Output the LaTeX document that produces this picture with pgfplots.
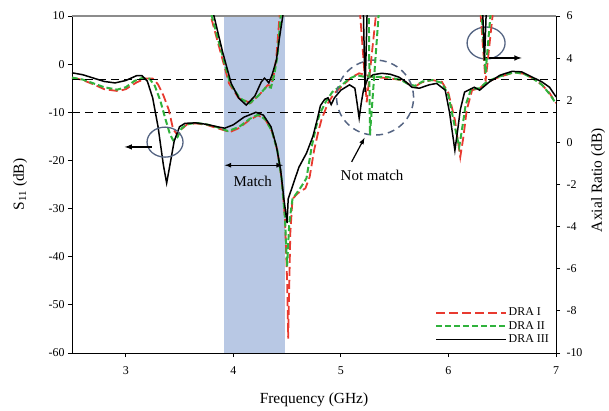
\documentclass[border=0pt]{standalone}
\usepackage{pgfplots}
\pgfplotsset{compat=1.18}
\usepackage{fontspec}
\setmainfont{Liberation Serif}
\definecolor{dred}{RGB}{232,58,48}
\definecolor{dgreen}{RGB}{48,178,60}
\definecolor{shade}{RGB}{184,200,228}
\definecolor{ring}{RGB}{84,100,130}
\begin{document}
\begin{tikzpicture}[font=\fontsize{15}{17}\selectfont]
\pgfplotsset{
  base/.style={scale only axis, width=484bp, height=337bp, xmin=2.5, xmax=7, clip=true,
    tick align=outside, major tick length=4bp,
    /pgf/number format/assume math mode=true,
    tick label style={font=\fontsize{12}{13}\selectfont},
    label style={font=\fontsize{15.5}{17}\selectfont},
    axis line style={line width=0.9bp}, tick style={line width=0.8bp, black}},
  redS/.style={dred, line width=1.8bp, dash pattern=on 9bp off 4bp},
  greenS/.style={dgreen, line width=2bp, dash pattern=on 6bp off 3bp},
  blackS/.style={black, line width=1.5bp},
}
\begin{axis}[base, ymin=-60, ymax=10,
  axis x line*=bottom, axis y line*=left,
  ytick={-60,-50,...,10}, xtick={3,4,5,6,7},
  xticklabel style={yshift=-6bp},
  xlabel={Frequency (GHz)}, ylabel={S\textsubscript{11} (dB)},
  xlabel style={at={(axis description cs:0.5,-0.14)}, anchor=center},
  ylabel style={at={(axis description cs:-0.107,0.5)}, anchor=center},
  legend style={draw=none, fill=none, at={(0.995,0.015)}, anchor=south east,
    row sep=1bp, font=\fontsize{12}{12}\selectfont, nodes={inner sep=1.5bp}},
  legend cell align=left,
  legend image code/.code={\draw[#1] (0bp,0bp) -- (55bp,0bp); \path (0bp,0bp) -- (70bp,0bp);},
]
\coordinate (SW) at (rel axis cs:0,0);
\addplot[fill=shade, draw=none, forget plot] coordinates {(3.91,-60) (3.91,10) (4.48,10) (4.48,-60)} -- cycle;
\addplot[black, line width=1bp, dash pattern=on 8bp off 5bp, forget plot] coordinates {(2.5,-10) (7,-10)};
\draw[black!45, line width=1.4bp] (rel axis cs:0,1) -- (rel axis cs:1,1);

\addplot[redS] coordinates {
(2.50,-2.8) (2.60,-3.3) (2.70,-4.2) (2.80,-5.2) (2.93,-5.6) (3.00,-5.2) (3.10,-3.8) (3.18,-3.0) (3.25,-3.0) (3.30,-4.2) (3.35,-6.5) (3.40,-9.5) (3.44,-13.5) (3.48,-14.7) (3.52,-13.5) (3.57,-12.5) (3.65,-12.3) (3.75,-12.6) (3.85,-13.3) (3.97,-14.1) (4.05,-13.3) (4.15,-11.6) (4.23,-10.6) (4.30,-11.6) (4.36,-14) (4.41,-18) (4.45,-24) (4.48,-32) (4.50,-45) (4.51,-57) (4.53,-35) (4.55,-28) (4.60,-26.8) (4.67,-25.8) (4.71,-23.4) (4.75,-18) (4.79,-14) (4.82,-11.5) (4.88,-8.1) (4.94,-6) (5.00,-4.8) (5.10,-2.7) (5.17,-1.9) (5.24,-2.3) (5.30,-2.7) (5.44,-2.9) (5.56,-3.3) (5.62,-4) (5.68,-4.8) (5.75,-3.8) (5.85,-3.3) (5.94,-3.7) (6.00,-6) (6.06,-11.6) (6.11,-19.3) (6.14,-15) (6.17,-9.5) (6.22,-5.4) (6.29,-5) (6.36,-3.7) (6.47,-2.7) (6.61,-1.7) (6.70,-2) (6.78,-2.9) (6.87,-4.3) (6.94,-6) (7.00,-8.1)
};
\addlegendentry{DRA I}
\addplot[greenS] coordinates {
(2.50,-2.8) (2.60,-3.2) (2.70,-4.0) (2.80,-4.8) (2.92,-5.3) (3.00,-4.8) (3.08,-3.5) (3.15,-2.9) (3.22,-3.0) (3.27,-4.5) (3.32,-7.5) (3.37,-11.5) (3.41,-14.5) (3.44,-15.8) (3.48,-15.2) (3.52,-13.3) (3.57,-12.5) (3.65,-12.2) (3.75,-12.5) (3.85,-13.1) (3.95,-13.9) (4.05,-13.1) (4.15,-11.4) (4.23,-10.5) (4.30,-11.5) (4.36,-14) (4.41,-18) (4.45,-24) (4.48,-32) (4.50,-42) (4.52,-33) (4.55,-28) (4.63,-25.5) (4.68,-23.7) (4.73,-17) (4.77,-13) (4.80,-10.5) (4.86,-7.8) (4.92,-5.8) (5.00,-4.5) (5.08,-3) (5.15,-2.3) (5.21,-2.6) (5.30,-2.6) (5.44,-2.7) (5.56,-3.3) (5.63,-4.2) (5.69,-4.5) (5.76,-3.6) (5.85,-3.3) (5.94,-3.9) (6.00,-6.5) (6.05,-12) (6.10,-17.2) (6.13,-13) (6.16,-8.5) (6.21,-5.2) (6.29,-5) (6.36,-3.6) (6.47,-2.6) (6.61,-1.7) (6.70,-2) (6.78,-2.9) (6.87,-4.3) (6.94,-6.2) (7.00,-8.2)
};
\addlegendentry{DRA II}
\addplot[blackS] coordinates {
(2.50,-1.8) (2.60,-2.2) (2.70,-2.9) (2.80,-3.6) (2.90,-3.9) (3.00,-3.4) (3.10,-2.4) (3.15,-2.4) (3.20,-3.5) (3.25,-7) (3.30,-13) (3.35,-21) (3.38,-24.7) (3.41,-21) (3.45,-16) (3.50,-13) (3.55,-12.3) (3.65,-12.2) (3.75,-12.5) (3.85,-13) (3.92,-13.3) (4.00,-12.6) (4.10,-11) (4.21,-10) (4.28,-10.6) (4.35,-13) (4.40,-17) (4.44,-22) (4.47,-28) (4.50,-33) (4.51,-28) (4.56,-24.7) (4.61,-21.4) (4.68,-18.5) (4.74,-15) (4.78,-11.5) (4.81,-8.6) (4.85,-7.3) (4.88,-7.0) (4.91,-8.4) (4.94,-7) (5.00,-5.4) (5.08,-4.3) (5.13,-5) (5.15,-8) (5.17,-11.2) (5.19,-8) (5.21,-5.4) (5.25,-3) (5.30,-2.2) (5.38,-1.9) (5.46,-2.1) (5.54,-2.7) (5.60,-3.6) (5.66,-4.8) (5.73,-5) (5.82,-4.3) (5.89,-4) (5.97,-5.4) (6.01,-10) (6.06,-17.9) (6.09,-13) (6.11,-9.5) (6.15,-5.8) (6.24,-4.8) (6.29,-5.4) (6.38,-3.7) (6.48,-2.3) (6.59,-1.5) (6.68,-1.6) (6.78,-2.7) (6.87,-3.7) (6.94,-4.8) (7.00,-6.8)
};
\addlegendentry{DRA III}

% annotations
\draw[ring, line width=1.3bp] (axis cs:3.365,-16.2) ellipse [x radius=18bp, y radius=15bp];
\draw[black, line width=1.5bp, -latex] (axis cs:3.24,-17.2) -- (axis cs:2.99,-17.2);
\draw[black, line width=1.2bp, latex-latex] (axis cs:3.92,-21) -- (axis cs:4.46,-21);
\node at (axis cs:4.18,-24.3) {Match};
\draw[ring, line width=1.5bp, dash pattern=on 7bp off 5bp] (axis cs:5.318,-6.94) ellipse [x radius=38.5bp, y radius=37.5bp];
\node at (axis cs:5.29,-23.2) {Not match};
\draw[black, line width=1.2bp, -latex] (axis cs:5.10,-20.3) -- (axis cs:5.22,-15.3);
\draw[ring, line width=1.3bp] (axis cs:6.35,4.39) ellipse [x radius=19bp, y radius=16bp];
\draw[black, line width=1.5bp, -latex] (axis cs:6.32,1.28) -- (axis cs:6.68,1.28);
\end{axis}

\begin{axis}[base, ymin=-10, ymax=6,
  axis y line*=right, axis x line=none,
  ytick={-10,-8,...,6},
  yticklabel style={xshift=3bp},
  ylabel={Axial Ratio (dB)},
  ylabel style={at={(axis description cs:1.087,0.513)}, anchor=center},
]
\addplot[black, line width=1bp, dash pattern=on 8bp off 5bp] coordinates {(2.5,3) (7,3)};
\addplot[redS] coordinates {
(3.65,12) (3.79,6) (3.88,4.3) (3.96,2.8) (4.05,2.1) (4.16,1.87) (4.24,2.25) (4.32,2.72) (4.35,2.68) (4.38,3.3) (4.40,4.05) (4.43,6) (4.46,12)
(5.175,12) (5.18,6) (5.24,1.9) (5.325,6) (5.33,12)
(6.295,12) (6.30,6) (6.345,2.9) (6.41,6) (6.415,12)
};
\addplot[greenS] coordinates {
(3.67,12) (3.80,6) (3.89,4.3) (3.97,2.8) (4.06,2.1) (4.15,1.85) (4.23,2.2) (4.31,2.65) (4.35,2.6) (4.38,3.2) (4.41,4.1) (4.44,6) (4.47,12)
(5.255,12) (5.26,6) (5.27,0.35) (5.35,6) (5.355,12)
(6.305,12) (6.31,6) (6.345,3.3) (6.39,6) (6.395,12)
};
\addplot[blackS] coordinates {
(3.70,12) (3.82,6) (3.90,4.3) (3.98,2.8) (4.05,2.1) (4.12,1.77) (4.20,2.2) (4.26,2.87) (4.29,3.05) (4.31,2.95) (4.33,2.82) (4.36,3.2) (4.40,3.9) (4.43,5) (4.46,6) (4.50,12)
(5.205,12) (5.21,6) (5.225,2.4) (5.243,6) (5.25,12)
(6.315,12) (6.32,6) (6.335,3.9) (6.35,6) (6.355,12)
};
\end{axis}
\pgfresetboundingbox
\path[use as bounding box] (SW) ++(-72bp,-58bp) rectangle ++(609bp,411bp);
\end{tikzpicture}
\end{document}
